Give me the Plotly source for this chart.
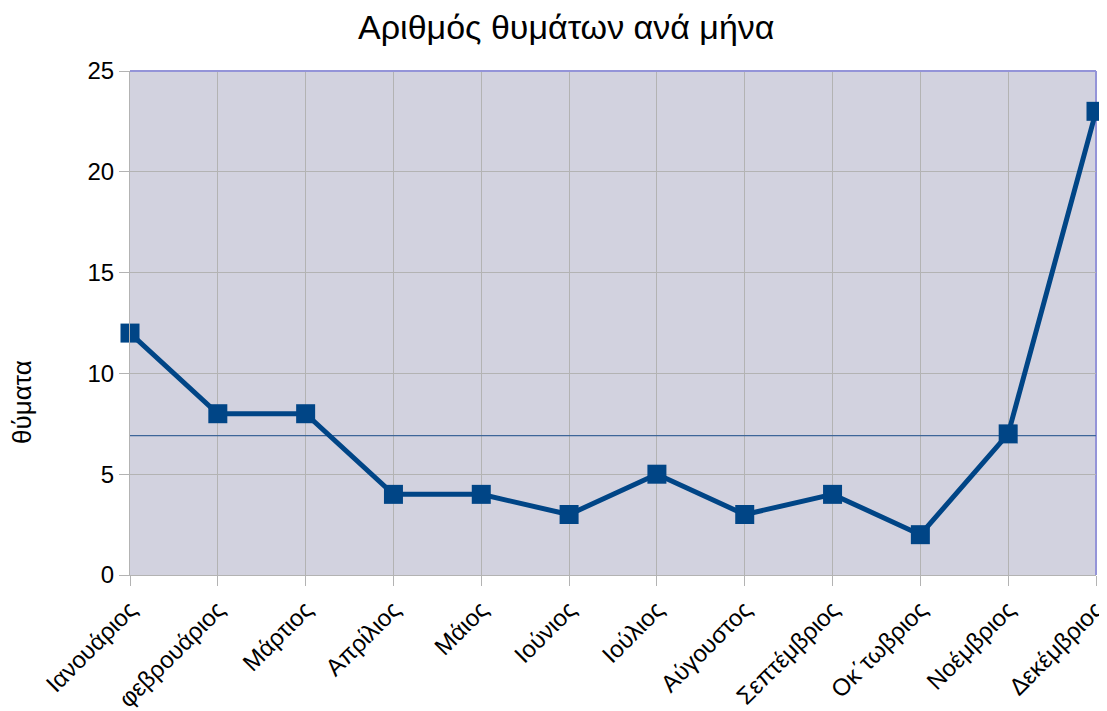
import plotly.graph_objects as go

months = ["Ιανουάριος", "φεβρουάριος", "Μάρτιος", "Απρίλιος", "Μάιος", "Ιούνιος",
          "Ιούλιος", "Αύγουστος", "Σεπτέμβριος", "Οκ΄τωβριος", "Νοέμβριος", "Δεκέμβριος"]
victims = [12, 8, 8, 4, 4, 3, 5, 3, 4, 2, 7, 23]
title = "Αριθμός θυμάτων ανά μήνα"
y_title = "θύματα"

mean_val = sum(victims) / len(victims)

fig = go.Figure()
fig.add_trace(go.Scatter(
    x=months, y=[mean_val] * len(months), mode="lines",
    line=dict(color="#3d6699", width=1.2), hoverinfo="skip", cliponaxis=False))
fig.add_trace(go.Scatter(
    x=months, y=victims, mode="lines+markers",
    line=dict(color="#004586", width=5),
    marker=dict(symbol="square", size=19, color="#004586"),
    cliponaxis=False))

fig.update_layout(
    width=1099, height=703,
    margin=dict(l=122, r=11, t=63, b=136, autoexpand=False),
    paper_bgcolor="white", plot_bgcolor="#d2d2df",
    showlegend=False,
    font=dict(family="Liberation Sans, Arial, sans-serif", color="black"),
    title=dict(text=title, x=0.508, xanchor="center", y=0.973, yanchor="middle",
               font=dict(size=34)),
    xaxis=dict(type="category", range=[0, 11], tickangle=-45, automargin=False,
               showgrid=True, gridcolor="#b3b3b3", gridwidth=1,
               ticks="outside", ticklen=10, tickcolor="#b3b3b3",
               showline=True, linecolor="#b3b3b3", linewidth=1,
               tickfont=dict(size=24), zeroline=False),
    yaxis=dict(range=[0, 25], dtick=5, automargin=False,
               showgrid=True, gridcolor="#b3b3b3", gridwidth=1,
               ticks="outside", ticklen=10, tickcolor="#b3b3b3",
               showline=True, linecolor="#b3b3b3", linewidth=1,
               tickfont=dict(size=24), zeroline=False),
    annotations=[
        dict(text=y_title, xref="paper", yref="paper", x=-0.112, y=0.343,
             xanchor="center", yanchor="middle", textangle=-90, showarrow=False,
             font=dict(size=26)),
    ],
    shapes=[
        dict(type="line", xref="paper", yref="paper", x0=0, x1=1, y0=1, y1=1,
             line=dict(color="#9494d8", width=2), layer="above"),
        dict(type="line", xref="paper", yref="paper", x0=1, x1=1, y0=0, y1=1,
             line=dict(color="#9494d8", width=2), layer="below"),
    ],
)

fig.write_html("out.html")
